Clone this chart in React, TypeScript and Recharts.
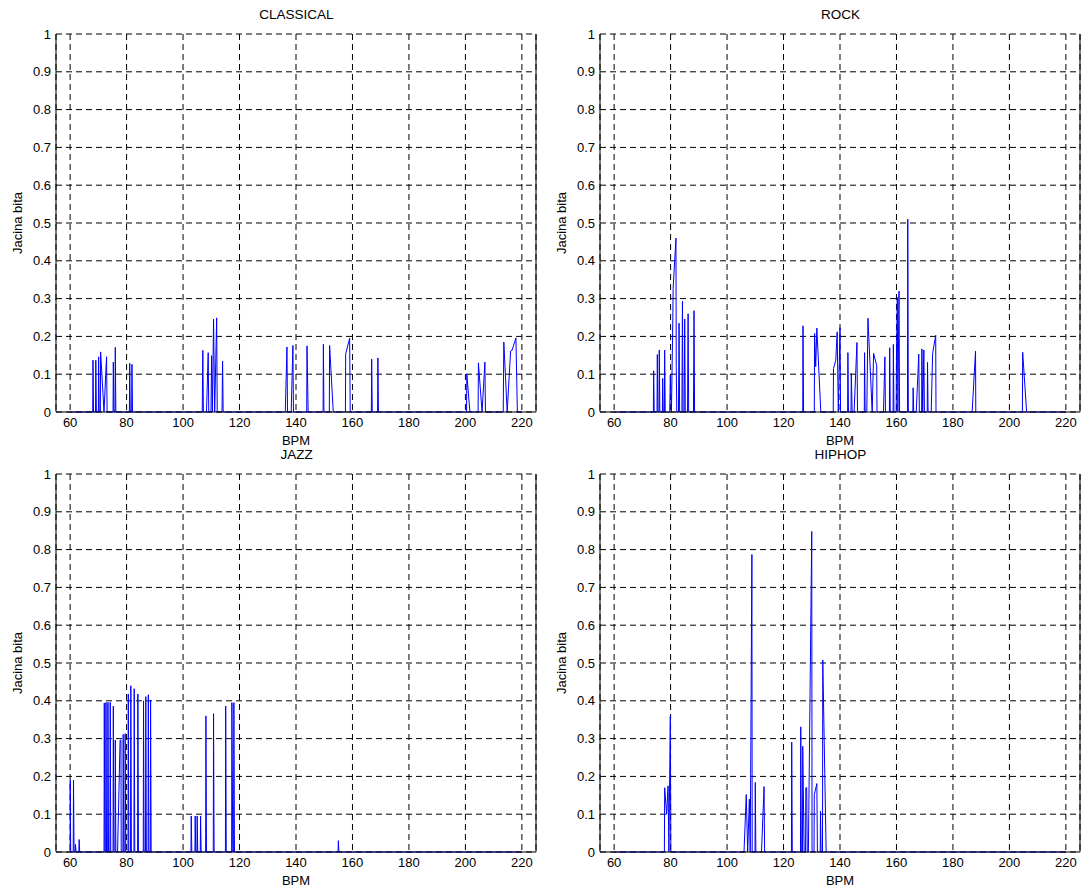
import { LineChart, Line, XAxis, YAxis, CartesianGrid } from "recharts";

// BPM positions and beat-strength values (zeros between the peaks)
const classicalBpm = [
  60, 68.0, 68.1, 68.3, 69.0, 69.1, 69.3, 70.0, 70.1, 70.3, 70.7, 70.8, 72.0, 72.9, 73.1,
  75.2, 75.3, 75.5, 75.9, 76.0, 76.2, 81.0, 81.1, 81.3, 81.8, 81.9, 82.1,
  106.8, 107.0, 107.2, 108.3, 108.9, 109.1, 109.9, 110.1, 110.4, 110.8, 111.2, 111.9, 112.1,
  113.8, 114.0, 114.2, 136.2, 136.8, 137.0, 138.3, 138.9, 139.1, 143.8, 143.9, 144.3,
  149.6, 149.7, 149.9, 151.8, 151.9, 153.2, 157.5, 157.6, 159.0, 159.2,
  166.7, 166.8, 167.0, 168.9, 169.0, 169.2, 200.4, 200.5, 201.6,
  204.5, 204.6, 205.9, 206.9, 207.1, 213.4, 213.6, 214.8, 216.0, 216.5, 217.9, 218.4, 220,
];
const classicalVal = [
  0, 0, 0.137, 0, 0, 0.137, 0, 0, 0.146, 0, 0, 0.159, 0, 0.146, 0,
  0, 0.132, 0, 0, 0.171, 0, 0, 0.129, 0, 0, 0.126, 0,
  0, 0.163, 0, 0, 0.157, 0, 0, 0.149, 0, 0.246, 0, 0.249, 0,
  0, 0.135, 0, 0, 0.172, 0, 0, 0.176, 0, 0, 0.175, 0,
  0, 0.179, 0, 0, 0.176, 0, 0, 0.154, 0.195, 0,
  0, 0.14, 0, 0, 0.143, 0, 0, 0.1, 0,
  0, 0.13, 0, 0.132, 0, 0, 0.185, 0, 0.161, 0.163, 0.196, 0, 0,
];

const rockBpm = [
  60, 73.9, 74.0, 74.2, 75.2, 75.3, 75.5, 75.9, 76.0, 76.2, 77.1, 77.2, 77.4, 77.8, 77.9, 78.1,
  79.7, 79.9, 80.3, 80.8, 80.9, 81.9, 82.0, 82.2, 82.8, 83.0, 83.2, 84.0, 84.2, 84.4,
  84.8, 85.0, 85.2, 86.0, 86.2, 86.4, 88.1, 88.3, 88.5,
  126.8, 126.9, 127.1, 130.9, 131.0, 131.4, 131.8, 133.2,
  137.6, 137.7, 138.5, 139.0, 139.4, 140.0, 140.2, 142.7, 142.8, 143.0, 143.9, 144.0, 144.3,
  145.0, 146.0, 146.2, 148.6, 148.7, 148.9, 149.5, 149.9, 151.4, 151.9, 153.0, 153.1,
  155.4, 155.9, 156.1, 157.5, 157.6, 157.8, 158.8, 158.9, 159.1,
  159.9, 160.0, 160.3, 160.5, 160.9, 161.1, 163.9, 164.0, 164.2, 165.8, 165.9, 166.1,
  167.0, 167.9, 168.1, 168.9, 169.0, 169.3, 169.7, 169.9, 170.9, 171.0, 171.2,
  172.3, 172.8, 173.9, 174.0, 186.8, 188.0, 188.1, 204.6, 204.7, 206.1, 220,
];
const rockVal = [
  0, 0, 0.109, 0, 0, 0.152, 0, 0, 0.164, 0, 0, 0.089, 0, 0, 0.164, 0,
  0, 0.097, 0, 0.25, 0.327, 0.46, 0.12, 0, 0, 0.235, 0, 0, 0.293, 0,
  0, 0.246, 0, 0, 0.26, 0, 0, 0.268, 0,
  0, 0.228, 0, 0, 0.208, 0.12, 0.222, 0,
  0, 0.115, 0.137, 0.212, 0, 0.223, 0, 0, 0.157, 0, 0, 0.102, 0,
  0, 0.184, 0, 0, 0.157, 0, 0, 0.248, 0, 0.155, 0.123, 0,
  0, 0.146, 0, 0, 0.17, 0, 0, 0.179, 0,
  0, 0.152, 0.303, 0, 0.32, 0, 0, 0.51, 0, 0, 0.064, 0,
  0, 0.153, 0, 0, 0.167, 0, 0.164, 0, 0, 0.131, 0,
  0, 0.155, 0.203, 0, 0, 0.161, 0, 0, 0.158, 0, 0,
];

const jazzBpm = [
  60, 60.05, 60.2, 61.1, 61.2, 61.4, 61.8, 61.9, 62.1, 63.1, 63.2, 63.4,
  72.0, 72.1, 72.3, 72.6, 72.7, 72.9, 73.3, 73.4, 73.6, 74.1, 74.2, 74.4, 75.2, 75.3, 75.5,
  75.9, 76.0, 76.2, 76.8, 77.7, 78.0, 78.1, 78.7, 78.8, 79.0, 79.4, 79.5, 79.7,
  80.5, 80.6, 80.8, 81.4, 81.5, 81.7, 82.6, 82.7, 82.9, 83.9, 84.0, 84.2,
  85.9, 86.0, 86.2, 86.7, 86.8, 87.0, 87.6, 87.7, 87.9, 88.4, 88.5, 88.7,
  102.8, 102.9, 103.1, 104.2, 104.3, 104.5, 104.9, 105.0, 105.2, 106.1, 106.2, 106.4,
  108.0, 108.1, 108.3, 110.7, 110.8, 111.0, 115.0, 115.1, 115.3,
  117.2, 117.3, 117.6, 117.9, 118.0, 118.2, 154.9, 155.0, 155.2, 220,
];
const jazzVal = [
  0, 0.19, 0, 0, 0.19, 0, 0, 0.02, 0, 0, 0.033, 0,
  0, 0.394, 0, 0, 0.396, 0, 0, 0.396, 0, 0, 0.396, 0, 0, 0.386, 0,
  0, 0.296, 0, 0, 0.296, 0.296, 0, 0, 0.311, 0, 0, 0.313, 0,
  0, 0.418, 0, 0, 0.44, 0, 0, 0.432, 0, 0, 0.418, 0,
  0, 0.4, 0, 0, 0.411, 0, 0, 0.416, 0, 0, 0.402, 0,
  0, 0.095, 0, 0, 0.095, 0, 0, 0.095, 0, 0, 0.095, 0,
  0, 0.36, 0, 0, 0.366, 0, 0, 0.386, 0,
  0, 0.395, 0, 0, 0.395, 0, 0, 0.03, 0, 0,
];

const hiphopBpm = [
  60, 77.8, 77.9, 78.6, 79.1, 79.4, 79.9, 80.1,
  106.0, 106.8, 107.3, 107.9, 108.2, 108.8, 108.9, 109.9, 110.0, 110.2, 112.2, 113.1, 113.3,
  122.8, 122.9, 123.1, 126.0, 126.1, 126.3, 126.7, 126.8, 127.3, 127.8, 127.9, 128.2, 128.4,
  128.8, 130.0, 130.1, 130.8, 130.9, 131.8, 132.0, 133.0, 133.1, 133.3, 133.8, 133.9, 135.1, 220,
];
const hiphopVal = [
  0, 0, 0.17, 0.1, 0.175, 0, 0.36, 0,
  0, 0.152, 0, 0.14, 0, 0.787, 0, 0, 0.184, 0, 0, 0.173, 0,
  0, 0.291, 0, 0, 0.331, 0, 0, 0.28, 0, 0, 0.17, 0.17, 0,
  0, 0.848, 0, 0, 0.152, 0.181, 0, 0, 0.108, 0, 0, 0.508, 0, 0,
];

const xTicks = [60, 80, 100, 120, 140, 160, 180, 200, 220];
const yTicks = [0, 0.1, 0.2, 0.3, 0.4, 0.5, 0.6, 0.7, 0.8, 0.9, 1];
const yTickLabels = ["0", "0.1", "0.2", "0.3", "0.4", "0.5", "0.6", "0.7", "0.8", "0.9", "1"];

const FONT = "'Liberation Sans', Arial, Helvetica, sans-serif";
const PLOT_W = 481;
const PLOT_H = 378;
const AXIS_W = 50;
const TOP_M = 34;
const XAXIS_H = 38;

function Panel({ title, xs, ys, left, top }: {
  title: string; xs: number[]; ys: number[]; left: number; top: number;
}) {
  const data = xs.map((x, i) => ({ bpm: x, v: ys[i] }));
  const tick = { fontSize: 13, fill: "#000", fontFamily: FONT };
  return (
    <div style={{ position: "absolute", left: left - AXIS_W, top: top - TOP_M }}>
      <div style={{
        position: "absolute", left: AXIS_W, top: TOP_M - 26, width: PLOT_W,
        textAlign: "center", fontSize: 13.5, lineHeight: "14px", fontFamily: FONT, color: "#000",
      }}>{title}</div>
      <LineChart
        width={AXIS_W + PLOT_W + 1}
        height={TOP_M + PLOT_H + XAXIS_H}
        data={data}
        margin={{ top: TOP_M, right: 1, left: 0, bottom: 0 }}
      >
        <CartesianGrid stroke="#000" strokeDasharray="6 4" ticks={xTicks} />
        <XAxis
          dataKey="bpm" type="number" domain={[55, 225]} ticks={xTicks}
          allowDataOverflow tick={tick} tickLine={false} tickSize={6} tickMargin={0}
          axisLine={{ stroke: "#000" }} height={XAXIS_H}
          label={{ value: "BPM", position: "insideBottom", offset: 5, fontSize: 13, fill: "#000", fontFamily: FONT }}
        />
        <XAxis
          xAxisId="top" orientation="top" dataKey="bpm" type="number" domain={[55, 225]}
          tick={false} tickLine={false} axisLine={{ stroke: "#000" }} height={0}
        />
        <YAxis
          type="number" domain={[0, 1]} ticks={yTicks} interval={0}
          tickFormatter={(v: number) => yTickLabels[yTicks.indexOf(v)] ?? String(v)}
          tick={tick} tickLine={false} tickSize={5} tickMargin={0}
          axisLine={{ stroke: "#000" }} width={AXIS_W}
          label={{
            value: "Jacina bita", angle: -90, position: "insideLeft", offset: 11,
            style: { textAnchor: "middle" }, fontSize: 13, fill: "#000", fontFamily: FONT,
          }}
        />
        <YAxis
          yAxisId="right" orientation="right" domain={[0, 1]}
          tick={false} tickLine={false} axisLine={{ stroke: "#000" }} width={1}
        />
        <Line
          dataKey="v" type="linear" stroke="#0000ff" strokeWidth={1}
          dot={false} activeDot={false} isAnimationActive={false}
        />
      </LineChart>
    </div>
  );
}

export default function App() {
  return (
    <div style={{
      position: "absolute", left: 0, top: 0, width: 1083, height: 890,
      overflow: "hidden", background: "#fff", fontFamily: FONT,
    }}>
      <Panel title="CLASSICAL" xs={classicalBpm} ys={classicalVal} left={56} top={33.5} />
      <Panel title="ROCK" xs={rockBpm} ys={rockVal} left={600} top={33.5} />
      <Panel title="JAZZ" xs={jazzBpm} ys={jazzVal} left={56} top={474} />
      <Panel title="HIPHOP" xs={hiphopBpm} ys={hiphopVal} left={600} top={474} />
    </div>
  );
}
